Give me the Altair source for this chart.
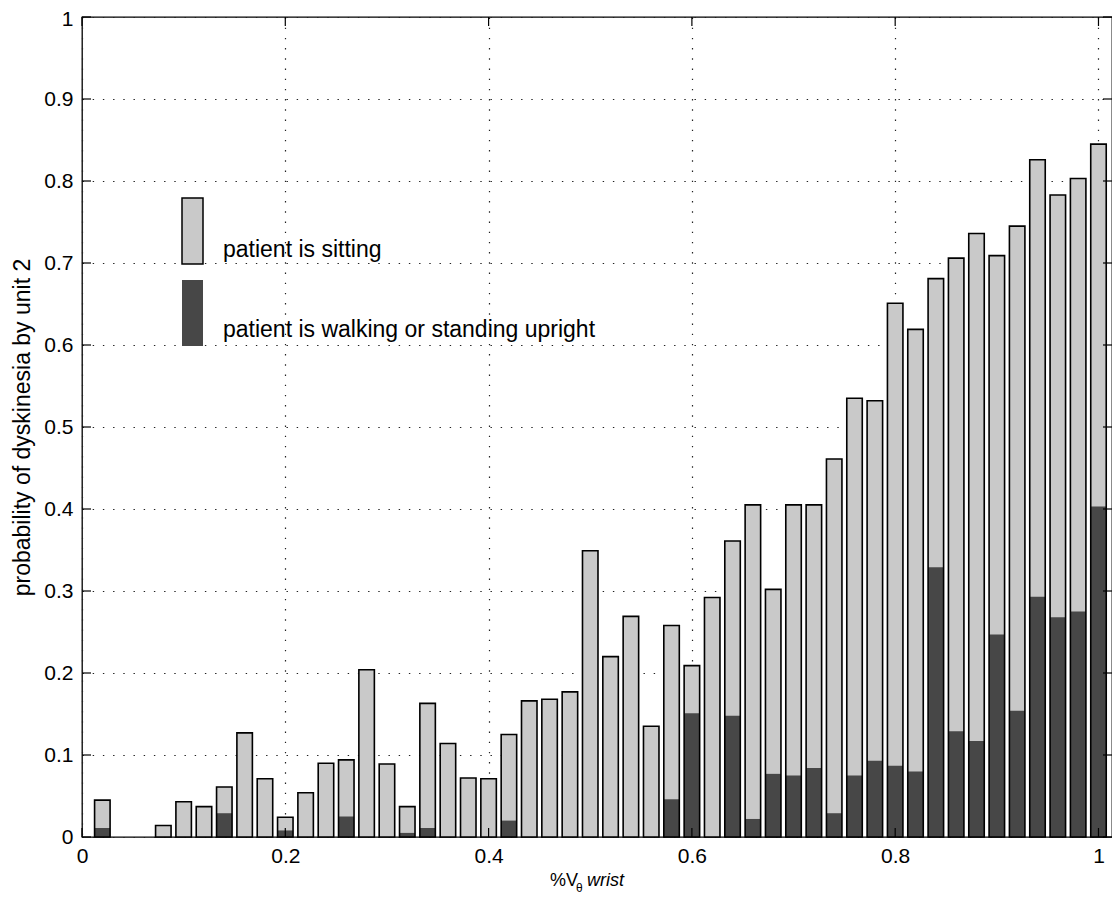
import altair as alt
import pandas as pd

# ---- data ----
x_centers = [0.02, 0.04, 0.06, 0.08, 0.10, 0.12, 0.14, 0.16, 0.18, 0.20,
             0.22, 0.24, 0.26, 0.28, 0.30, 0.32, 0.34, 0.36, 0.38, 0.40,
             0.42, 0.44, 0.46, 0.48, 0.50, 0.52, 0.54, 0.56, 0.58, 0.60,
             0.62, 0.64, 0.66, 0.68, 0.70, 0.72, 0.74, 0.76, 0.78, 0.80,
             0.82, 0.84, 0.86, 0.88, 0.90, 0.92, 0.94, 0.96, 0.98, 1.00]

p_sitting = [0.045, 0.0, 0.0, 0.014, 0.043, 0.037, 0.061, 0.127, 0.071, 0.024,
             0.054, 0.090, 0.094, 0.204, 0.089, 0.037, 0.163, 0.114, 0.072, 0.071,
             0.125, 0.166, 0.168, 0.177, 0.349, 0.220, 0.269, 0.135, 0.258, 0.209,
             0.292, 0.361, 0.405, 0.302, 0.405, 0.405, 0.461, 0.535, 0.532, 0.651,
             0.619, 0.681, 0.706, 0.736, 0.709, 0.745, 0.826, 0.783, 0.803, 0.845]

p_walking = [0.011, 0.0, 0.0, 0.0, 0.0, 0.0, 0.029, 0.0, 0.0, 0.008,
             0.0, 0.0, 0.025, 0.0, 0.0, 0.005, 0.011, 0.0, 0.0, 0.0,
             0.020, 0.0, 0.0, 0.0, 0.0, 0.0, 0.0, 0.0, 0.046, 0.151,
             0.0, 0.148, 0.022, 0.077, 0.075, 0.084, 0.029, 0.075, 0.093, 0.087,
             0.080, 0.329, 0.129, 0.117, 0.247, 0.154, 0.293, 0.268, 0.275, 0.403]

x_ticks = [0, 0.2, 0.4, 0.6, 0.8, 1.0]
y_ticks = [0, 0.1, 0.2, 0.3, 0.4, 0.5, 0.6, 0.7, 0.8, 0.9, 1.0]

y_title = "probability of dyskinesia by unit 2"
legend_labels = ["patient is sitting", "patient is walking or standing upright"]

FONT = "Liberation Sans"
W, H = 1030, 820
LIGHT = "#c9c9c9"
DARK = "#474747"

df = pd.DataFrame({"x": x_centers, "sitting": p_sitting, "walking": p_walking})

xscale = alt.Scale(domain=[0, 1.0133], nice=False, zero=False, padding=0)
yscale = alt.Scale(domain=[0, 1], nice=False, padding=0)

xaxis = alt.Axis(values=x_ticks, format="~g", title=None, grid=True,
                 gridDash=[1.4, 8.8], gridColor="#222222", gridWidth=1.2,
                 ticks=False, domain=False, labelFont=FONT, labelFontSize=21,
                 labelColor="black", labelPadding=8, labelFlush=False)
yaxis = alt.Axis(values=y_ticks, format="~g", title=y_title, grid=True,
                 gridDash=[1.4, 8.8], gridColor="#222222", gridWidth=1.2,
                 ticks=False, domain=False, labelFont=FONT, labelFontSize=21,
                 labelColor="black", labelPadding=9, titleFont=FONT,
                 titleFontSize=23, titleFontWeight="normal", titleColor="black",
                 titlePadding=9, labelFlush=False,
                 labelOffset={"condition": {"test": "datum.value >= 1", "value": 2},
                              "value": 0})

base = alt.Chart(df)

light = base.mark_bar(size=15.5, color=LIGHT).encode(
    x=alt.X("x:Q", scale=xscale, axis=xaxis),
    y=alt.Y("sitting:Q", scale=yscale, axis=yaxis),
)
dark = base.transform_filter("datum.walking > 0").mark_bar(size=15.5, color=DARK).encode(
    x=alt.X("x:Q", scale=xscale, axis=xaxis),
    y=alt.Y("walking:Q", scale=yscale, axis=yaxis),
)
outline = base.transform_filter("datum.sitting > 0").mark_bar(
    size=15.5, fill=LIGHT, fillOpacity=0, stroke="black", strokeWidth=1.6
).encode(
    x=alt.X("x:Q", scale=xscale, axis=xaxis),
    y=alt.Y("sitting:Q", scale=yscale, axis=yaxis),
)

# inward ticks (box style)
xt = alt.Chart(pd.DataFrame({"t": x_ticks}))
yt = alt.Chart(pd.DataFrame({"t": y_ticks}))
tick_b = xt.mark_rule(color="black", strokeWidth=1.2).encode(
    x=alt.X("t:Q", scale=xscale, axis=xaxis), y=alt.value(H), y2=alt.value(H - 9))
tick_t = xt.mark_rule(color="black", strokeWidth=1.2).encode(
    x=alt.X("t:Q", scale=xscale, axis=xaxis), y=alt.value(0), y2=alt.value(9))
tick_l = yt.mark_rule(color="black", strokeWidth=1.2).encode(
    y=alt.Y("t:Q", scale=yscale, axis=yaxis), x=alt.value(0), x2=alt.value(9))
tick_r = yt.mark_rule(color="black", strokeWidth=1.2).encode(
    y=alt.Y("t:Q", scale=yscale, axis=yaxis), x=alt.value(W), x2=alt.value(W - 9))

one = alt.Chart(pd.DataFrame({"a": [0]}))

# x-axis title: %V_theta wrist
xt1 = one.mark_text(text="%V", font=FONT, fontSize=18, align="left",
                    baseline="alphabetic", color="black").encode(
    x=alt.value(468), y=alt.value(869))
xt2 = one.mark_text(text="θ", font=FONT, fontSize=12, align="left",
                    baseline="alphabetic", color="black").encode(
    x=alt.value(494), y=alt.value(875))
xt3 = one.mark_text(text="wrist", font=FONT, fontSize=18, fontStyle="italic",
                    align="left", baseline="alphabetic", color="black").encode(
    x=alt.value(505), y=alt.value(869))

# legend inside the plot
leg_light = one.mark_rect(fill=LIGHT, stroke="black", strokeWidth=1.5).encode(
    x=alt.value(100), x2=alt.value(121), y=alt.value(181), y2=alt.value(247))
leg_dark = one.mark_rect(fill=DARK).encode(
    x=alt.value(100), x2=alt.value(121), y=alt.value(263), y2=alt.value(329))
leg_t1 = one.mark_text(text=legend_labels[0], font=FONT, fontSize=23, align="left",
                       baseline="alphabetic", color="black").encode(
    x=alt.value(141), y=alt.value(240))
leg_t2 = one.mark_text(text=legend_labels[1], font=FONT, fontSize=23, align="left",
                       baseline="alphabetic", color="black").encode(
    x=alt.value(141), y=alt.value(320))

chart = alt.layer(
    light, dark, outline, tick_b, tick_t, tick_l, tick_r,
    xt1, xt2, xt3, leg_light, leg_dark, leg_t1, leg_t2
).properties(
    width=W, height=H,
    autosize=alt.AutoSizeParams(type="none"),
    padding={"left": 74, "top": 9, "right": 0, "bottom": 59},
    background="white",
).configure_view(stroke="black", strokeWidth=1.3)

chart.save("out.html", embed_options={"renderer": "svg", "actions": False})
